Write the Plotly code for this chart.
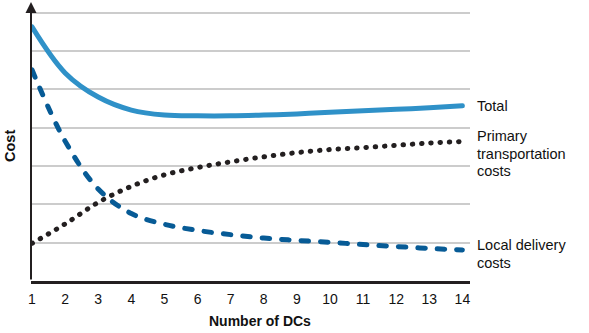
import plotly.graph_objects as go

# Cost curves against the number of distribution centres
dcs = [1, 2, 3, 4, 5, 6, 7, 8, 9, 10, 11, 12, 13, 14]
total_cost = [6.63, 5.43, 4.80, 4.46, 4.33, 4.31, 4.31, 4.33, 4.36, 4.40, 4.44, 4.48, 4.52, 4.57]
primary_transport = [0.98, 1.49, 2.05, 2.47, 2.77, 2.96, 3.11, 3.24, 3.35, 3.43, 3.48, 3.54, 3.60, 3.64]
local_delivery = [5.51, 3.65, 2.40, 1.76, 1.48, 1.32, 1.21, 1.12, 1.06, 1.01, 0.95, 0.90, 0.85, 0.81]

x_ticks = dcs
grid_levels = [1, 2, 3, 4, 5, 6, 7]

X_MIN, X_MAX = 0.97, 14.23
Y_MIN, Y_MAX = 0.0, 7.28
FONT = "Liberation Sans, Arial, sans-serif"

fig = go.Figure()

fig.add_trace(go.Scatter(
    x=dcs, y=local_delivery, mode="lines",
    line=dict(color="#075b96", width=5, dash="7.5px,12px", shape="spline", smoothing=1.0),
    hoverinfo="skip", showlegend=False,
))
fig.add_trace(go.Scatter(
    x=dcs, y=primary_transport, mode="lines",
    line=dict(color="#231f20", width=5, dash="0.5px,8.8px", shape="spline", smoothing=1.0),
    hoverinfo="skip", showlegend=False,
))
fig.add_trace(go.Scatter(
    x=dcs, y=total_cost, mode="lines",
    line=dict(color="#2f91c8", width=5, shape="spline", smoothing=1.0),
    hoverinfo="skip", showlegend=False,
))

# Vertical axis drawn as an arrow
fig.add_annotation(
    x=X_MIN, y=Y_MAX, ax=X_MIN, ay=Y_MIN,
    xref="x", yref="y", axref="x", ayref="y",
    showarrow=True, arrowhead=2, arrowsize=1.1, arrowwidth=2, arrowcolor="#231f20",
    text="",
)

# Curve labels on the right
label_font = dict(family=FONT, size=14.5, color="#111111")
px_to_val = lambda py: (281 - py) / 38.33
labels = [
    ("Total", 105.7),
    ("Primary", 135.7),
    ("transportation", 153.5),
    ("costs", 171.0),
    ("Local delivery", 245.0),
    ("costs", 262.5),
]
for txt, py in labels:
    fig.add_annotation(
        x=1.0115, xref="paper", y=px_to_val(py), yref="y",
        text=txt, showarrow=False, xanchor="left", yanchor="middle",
        font=label_font, align="left",
    )

# Axis titles
fig.add_annotation(
    x=(260 - 31) / 439, xref="paper", y=(281 - 321) / 279, yref="paper",
    text="<b>Number of DCs</b>", showarrow=False, xanchor="center", yanchor="middle",
    font=dict(family=FONT, size=14, color="#111111"),
)
fig.add_annotation(
    x=(10 - 31) / 439, xref="paper", y=(281 - 146) / 279, yref="paper",
    text="<b>Cost</b>", showarrow=False, textangle=-90, xanchor="center", yanchor="middle",
    font=dict(family=FONT, size=14.5, color="#111111"),
)

fig.update_layout(
    width=589, height=333,
    margin=dict(l=31, r=119, t=2, b=52),
    paper_bgcolor="white", plot_bgcolor="white",
    font=dict(family=FONT, size=14, color="#111111"),
    xaxis=dict(
        range=[X_MIN, X_MAX], tickvals=x_ticks, ticktext=[str(v) for v in x_ticks],
        showgrid=False, zeroline=False, showline=True, linecolor="#231f20", linewidth=2.5,
        ticks="", ticklabelstandoff=3, tickfont=dict(family=FONT, size=14, color="#111111"),
        fixedrange=True,
    ),
    yaxis=dict(
        range=[Y_MIN, Y_MAX], tickvals=grid_levels, showticklabels=False,
        showgrid=True, gridcolor="#cccccc", gridwidth=1.5, zeroline=False, showline=False,
        ticks="", fixedrange=True,
    ),
)

# Rounded line caps so the dotted curve renders as round dots
post = """
document.querySelectorAll('.scatterlayer path.js-line').forEach(function(p){
  p.style.strokeLinecap = 'round';
});
"""
fig.write_html("out.html", post_script=post, config={"displayModeBar": False})
